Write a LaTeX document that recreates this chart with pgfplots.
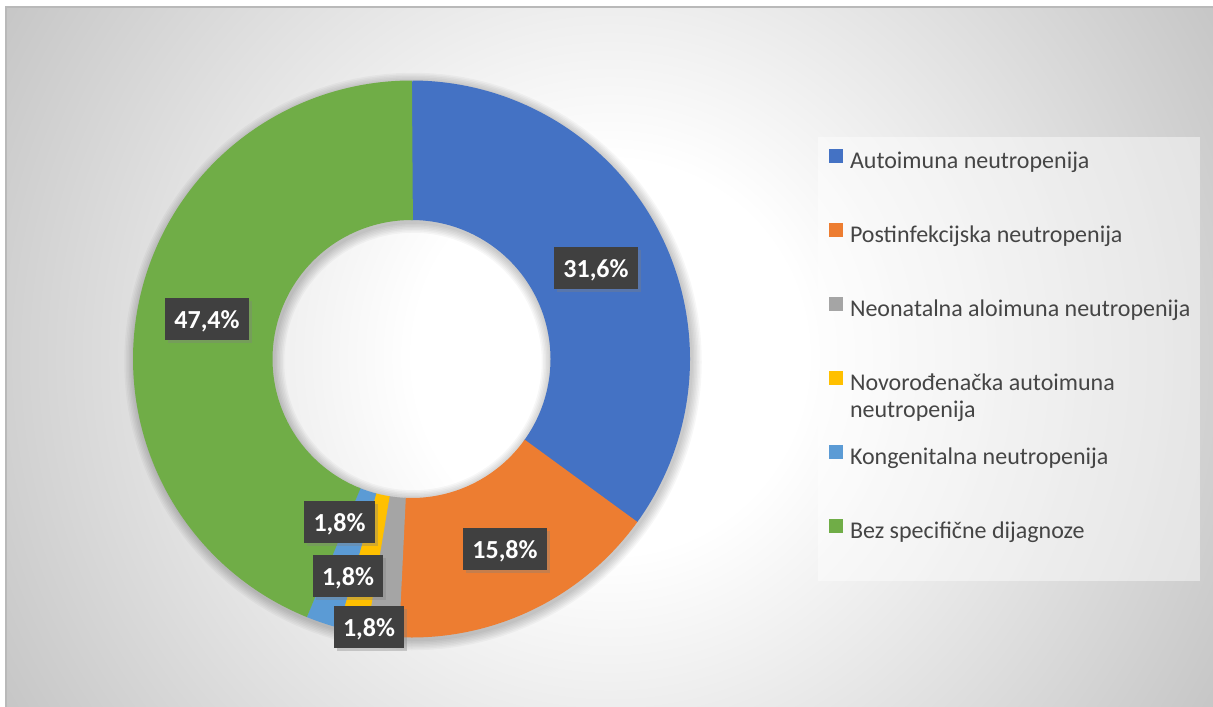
\documentclass[border=0pt]{standalone}
\usepackage{pgfplots}
\pgfplotsset{compat=1.18}
\usepackage{fontspec}
\setmainfont{Carlito}
\usetikzlibrary{shadows}
\definecolor{cBlue}{HTML}{4472C4}
\definecolor{cOrange}{HTML}{ED7D31}
\definecolor{cGray}{HTML}{A5A5A5}
\definecolor{cYellow}{HTML}{FFC000}
\definecolor{cLBlue}{HTML}{5B9BD5}
\definecolor{cGreen}{HTML}{70AD47}
\definecolor{legtext}{HTML}{454545}
\definecolor{lblfill}{HTML}{404040}
\definecolor{bggray}{HTML}{C6C6C6}
\pgfdeclareradialshading{bgshade}{\pgfpoint{0bp}{0bp}}{color(0bp)=(white); color(7bp)=(white); color(25bp)=(bggray); color(50bp)=(bggray)}

% labels as printed in the chart, at their positions (pixels)
\pgfplotstableread{
x     y    lab
596   268  31,6
505   549  15,8
369   627  1,8
348   576  1,8
339.5 522  1,8
207   319  47,4
}\labeltable

\begin{document}
\begin{tikzpicture}
\useasboundingbox (0,0) rectangle (606.5pt,353pt);
\fill[white] (0,0) rectangle (606.5pt,353pt);
\begin{scope}
\clip (3pt,0pt) rectangle (606.5pt,349.5pt);
\shade[shading=bgshade] (305pt,174.5pt) circle (350pt);
\end{scope}
\draw[color=gray!55, line width=0.6pt] (3pt,-2pt) -- (3pt,349.5pt) -- (610pt,349.5pt);
\fill[white, opacity=0.45] (409pt,62.5pt) rectangle (600pt,284.5pt);
\begin{axis}[
  at={(0,0)}, anchor=south west,
  hide axis, clip=false,
  x=0.5pt, y=0.5pt, xmin=0, xmax=1213, ymin=0, ymax=706, y dir=reverse,
  legend cell align=left,
  legend image code/.code={\fill[draw=none, line width=0pt] (0pt,0pt) rectangle (7pt,7pt);},
  legend style={at={(axis cs:829,148.7)}, anchor=north west, draw=none, fill=none,
    inner sep=0pt, outer sep=0pt, row sep=24pt, column sep=3.5pt,
    font=\fontsize{12}{13.5}\selectfont, text=legtext,
    nodes={inner sep=0pt, text height=9pt, text depth=3pt}},
]
% soft shadow of the ring
\pgfplotsinvokeforeach{71pt,72.5pt,74pt,75.5pt,77pt,78.5pt,80pt}{
\addplot[forget plot, draw=black, draw opacity=0.03, line width=#1, domain=0:360.6, samples=181]
  ({413+208.75*sin(x)},{361.5-208.75*cos(x)});
}
% slices: angular extents (degrees clockwise from 12 o'clock)
\addplot[color=cBlue, line width=69.75pt, domain=0:126.0, samples=120]
  ({411.5+208.75*sin(x)},{359-208.75*cos(x)});
\addlegendentry{Autoimuna neutropenija}
\addplot[color=cOrange, line width=69.75pt, domain=125.7:182.8, samples=60]
  ({411.5+208.75*sin(x)},{359-208.75*cos(x)});
\addlegendentry{Postinfekcijska neutropenija}
\addplot[color=cGray, line width=69.75pt, domain=182.5:189.5, samples=12]
  ({411.5+208.75*sin(x)},{359-208.75*cos(x)});
\addlegendentry{Neonatalna aloimuna neutropenija}
\addplot[color=cYellow, line width=69.75pt, domain=189.2:195.3, samples=12]
  ({411.5+208.75*sin(x)},{359-208.75*cos(x)});
\addlegendentry{\smash{\begin{tabular}[t]{@{}l@{}}Novorođenačka autoimuna\\neutropenija\end{tabular}}}
\addplot[color=cLBlue, line width=69.75pt, domain=195.0:202.2, samples=12]
  ({411.5+208.75*sin(x)},{359-208.75*cos(x)});
\addlegendentry{Kongenitalna neutropenija}
\addplot[color=cGreen, line width=69.75pt, domain=201.9:360.25, samples=120]
  ({411.5+208.75*sin(x)},{359-208.75*cos(x)});
\addlegendentry{Bez specifične dijagnoze}
% data labels
\addplot[forget plot, draw=none, nodes near coords={\pgfplotspointmeta\%},
  point meta=explicit symbolic,
  nodes near coords style={anchor=center, fill=lblfill, text=white,
    font=\fontsize{13}{15}\selectfont\bfseries, inner xsep=4.7pt, inner ysep=0pt,
    minimum height=21pt, text height=9pt, text depth=0pt,
    drop shadow={shadow xshift=1.5pt, shadow yshift=-1.5pt, opacity=0.35}}]
  table[x=x, y=y, meta=lab] {\labeltable};
\end{axis}
\end{tikzpicture}
\end{document}
